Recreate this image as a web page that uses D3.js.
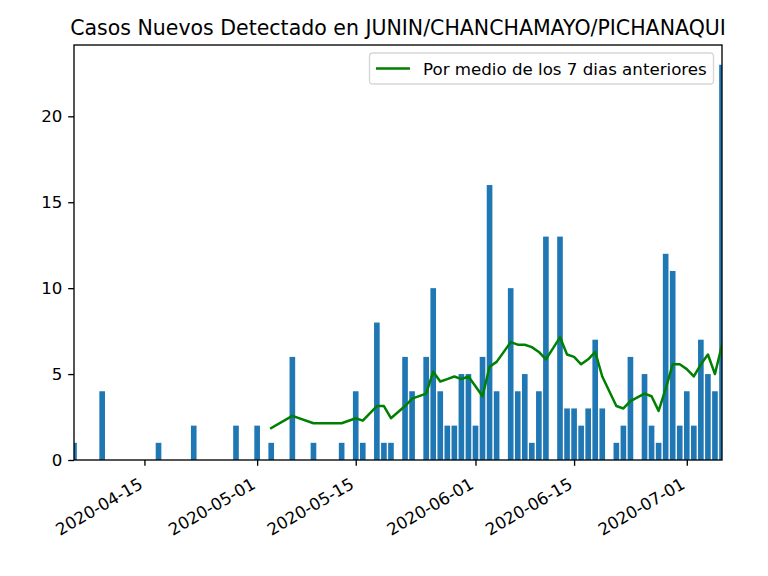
<!DOCTYPE html>
<html>
<head>
<meta charset="utf-8">
<script src="https://cdn.jsdelivr.net/npm/d3@7"></script>
<style>
  html, body { margin: 0; padding: 0; background: #fff; }
  svg { display: block; font-family: "DejaVu Sans", sans-serif; }
</style>
</head>
<body>
<svg id="chart" width="768" height="576"></svg>
<script>
// ---- data ----
const dates = [
  "2020-04-05","2020-04-09","2020-04-17","2020-04-22","2020-04-28","2020-05-01","2020-05-03",
  "2020-05-06","2020-05-09","2020-05-13","2020-05-15","2020-05-16","2020-05-18","2020-05-19",
  "2020-05-20","2020-05-22","2020-05-23","2020-05-25","2020-05-26","2020-05-27","2020-05-28",
  "2020-05-29","2020-05-30","2020-05-31","2020-06-01","2020-06-02","2020-06-03","2020-06-04",
  "2020-06-06","2020-06-07","2020-06-08","2020-06-09","2020-06-10","2020-06-11","2020-06-13",
  "2020-06-14","2020-06-15","2020-06-16","2020-06-17","2020-06-18","2020-06-19","2020-06-21",
  "2020-06-22","2020-06-23","2020-06-25","2020-06-26","2020-06-27","2020-06-28","2020-06-29",
  "2020-06-30","2020-07-01","2020-07-02","2020-07-03","2020-07-04","2020-07-05","2020-07-06"
];
const newCases = [
  1,4,1,2,2,2,1,
  6,1,1,4,1,8,1,
  1,6,4,6,10,4,2,
  2,5,5,2,6,16,4,
  10,4,5,1,4,13,13,
  3,3,2,3,7,3,1,
  2,6,5,2,1,12,11,
  2,4,2,7,5,4,23
];
const avgPrev7 = [
  null,null,null,null,null,null,1.86,
  2.57,2.14,2.14,2.43,2.29,3.14,3.14,
  2.43,3.14,3.57,3.86,5.14,4.57,4.71,
  4.86,4.71,4.86,4.29,3.71,5.43,5.71,
  6.86,6.71,6.71,6.57,6.29,5.86,7.14,
  6.14,6.00,5.57,5.86,6.29,4.86,3.14,
  3.00,3.43,3.86,3.71,2.86,4.14,5.57,
  5.57,5.29,4.86,5.57,6.14,5.00,6.71
];
const xTickLabels = ["2020-04-15","2020-05-01","2020-05-15","2020-06-01","2020-06-15","2020-07-01"];
const yTickValues = [0, 5, 10, 15, 20];
const titleText = "Casos Nuevos Detectado en JUNIN/CHANCHAMAYO/PICHANAQUI";
const legendLabel = "Por medio de los 7 dias anteriores";

// ---- layout ----
const W = 768, H = 576;
const mLeft = 74, mRight = 722, mTop = 45, mBottom = 460;
const parse = d3.utcParse("%Y-%m-%d");
const fmt = d3.utcFormat("%Y-%m-%d");
const DAY = 86400000;
const rows = dates.map((d, i) => ({ date: parse(d), cases: newCases[i], avg: avgPrev7[i] }));

const x = d3.scaleUtc()
  .domain([rows[0].date, rows[rows.length - 1].date])
  .range([mLeft, mRight]);
const yMax = d3.max(newCases) * 1.05;
const y = d3.scaleLinear().domain([0, yMax]).range([mBottom, mTop]);

const svg = d3.select("#chart");
svg.append("rect").attr("width", W).attr("height", H).attr("fill", "#fff");

svg.append("defs").append("clipPath").attr("id", "clip")
  .append("rect").attr("x", mLeft).attr("y", mTop)
  .attr("width", mRight - mLeft).attr("height", mBottom - mTop);

const plot = svg.append("g").attr("clip-path", "url(#clip)");

// bars (width 0.8 day, centred on date)
plot.selectAll("rect.bar").data(rows).join("rect")
  .attr("class", "bar")
  .attr("x", d => x(new Date(+d.date - 0.4 * DAY)))
  .attr("width", d => x(new Date(+d.date + 0.4 * DAY)) - x(new Date(+d.date - 0.4 * DAY)))
  .attr("y", d => y(d.cases))
  .attr("height", d => y(0) - y(d.cases))
  .attr("fill", "#1f77b4");

// moving average line
const line = d3.line()
  .defined(d => d.avg !== null)
  .x(d => x(d.date))
  .y(d => y(d.avg));
plot.append("path").datum(rows)
  .attr("d", line)
  .attr("fill", "none")
  .attr("stroke", "#008000")
  .attr("stroke-width", 2.5)
  .attr("stroke-linejoin", "round")
  .attr("stroke-linecap", "square");

// axes
const fs = 16.67;
const xAxis = d3.axisBottom(x)
  .tickValues(xTickLabels.map(parse))
  .tickFormat(fmt)
  .tickSize(5.8)
  .tickSizeOuter(0);
const gx = svg.append("g").attr("transform", `translate(0,${mBottom})`).call(xAxis);
gx.select(".domain").remove();
gx.selectAll(".tick line").attr("stroke", "#000").attr("stroke-width", 1.33);
gx.selectAll(".tick text")
  .attr("x", 0).attr("y", 0).attr("dy", null)
  .attr("text-anchor", "end")
  .attr("transform", "translate(-1,27.5) rotate(-30)")
  .attr("font-size", fs)
  .attr("font-family", "DejaVu Sans")
  .attr("fill", "#000");

const yAxis = d3.axisLeft(y)
  .tickValues(yTickValues)
  .tickFormat(d3.format("d"))
  .tickSize(5.8)
  .tickPadding(5.8)
  .tickSizeOuter(0);
const gy = svg.append("g").attr("transform", `translate(${mLeft},0)`).call(yAxis);
gy.select(".domain").remove();
gy.selectAll(".tick line").attr("stroke", "#000").attr("stroke-width", 1.33);
gy.selectAll(".tick text")
  .attr("font-size", fs)
  .attr("font-family", "DejaVu Sans")
  .attr("fill", "#000");

// spines
svg.append("rect")
  .attr("x", mLeft).attr("y", mTop)
  .attr("width", mRight - mLeft).attr("height", mBottom - mTop)
  .attr("fill", "none").attr("stroke", "#000").attr("stroke-width", 1.33);

// title
svg.append("text")
  .attr("x", (mLeft + mRight) / 2).attr("y", 35)
  .attr("text-anchor", "middle")
  .attr("font-size", 20.5)
  .attr("fill", "#000")
  .text(titleText);

// legend
const lg = svg.append("g");
lg.append("rect")
  .attr("x", 369.5).attr("y", 53).attr("width", 344).attr("height", 31)
  .attr("rx", 3.3).attr("ry", 3.3)
  .attr("fill", "rgba(255,255,255,0.8)")
  .attr("stroke", "#d6d6d6").attr("stroke-width", 1.33);
lg.append("line")
  .attr("x1", 376).attr("x2", 410).attr("y1", 68.5).attr("y2", 68.5)
  .attr("stroke", "#008000").attr("stroke-width", 2.5);
lg.append("text")
  .attr("x", 423).attr("y", 74.5)
  .attr("font-size", fs)
  .attr("fill", "#000")
  .text(legendLabel);
</script>
</body>
</html>
